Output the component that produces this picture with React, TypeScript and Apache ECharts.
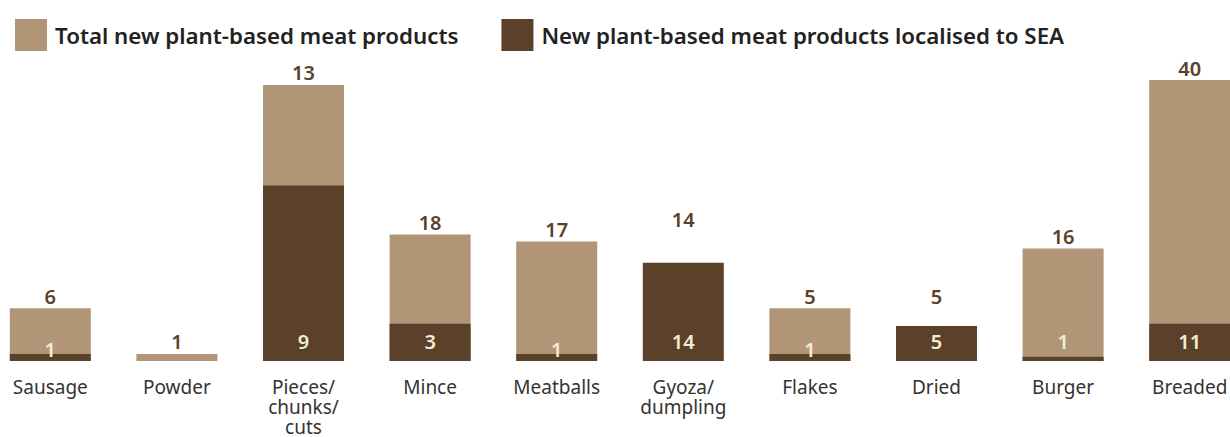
import React, { useEffect, useRef } from "react";
import * as echarts from "echarts";

// Categories (x axis)
const categories = [
  "Sausage",
  "Powder",
  "Pieces/\nchunks/\ncuts",
  "Mince",
  "Meatballs",
  "Gyoza/\ndumpling",
  "Flakes",
  "Dried",
  "Burger",
  "Breaded",
];

// Values printed on the chart
const totalProducts = [6, 1, 13, 18, 17, 14, 5, 5, 16, 40];
const localisedProducts: (number | null)[] = [1, null, 9, 3, 1, 14, 1, 5, 1, 11];

// Bar lengths as drawn in the reference (chart units)
const totalBarLength = [7.5, 1, 39.3, 18, 17, 18.5, 7.5, 7.5, 16, 40];
const localisedBarLength = [1, 0, 25, 5.3, 1, 14, 1, 5, 0.6, 5.3];

// Categories whose total bar is not drawn in the reference (label only)
const hiddenTotal = ["Gyoza/\ndumpling", "Dried"];
// Categories whose localised label sits lower in its bar
const lowLocalLabel = ["Sausage", "Meatballs", "Flakes"];

const seriesNames = [
  "Total new plant-based meat products",
  "New plant-based meat products localised to SEA",
];

const LIGHT = "#b09577";
const DARK = "#5b412a";
const CREAM = "#f3ecd4";
const FONT = "'Noto Sans', Roboto, sans-serif";

export default function App() {
  const ref = useRef<HTMLDivElement>(null);

  useEffect(() => {
    if (!ref.current) return;
    const chart = echarts.init(ref.current, undefined, { renderer: "svg" });

    const totalData = totalBarLength.map((v, i) =>
      hiddenTotal.includes(categories[i])
        ? { value: v, itemStyle: { color: "rgba(0,0,0,0)" } }
        : { value: v }
    );
    const localData = localisedBarLength.map((v, i) =>
      lowLocalLabel.includes(categories[i])
        ? { value: v, label: { distance: 2 } }
        : { value: v }
    );

    chart.setOption({
      animation: false,
      textStyle: { fontFamily: FONT },
      legend: {
        left: 23,
        top: 14,
        itemWidth: 32,
        itemHeight: 32,
        itemGap: 43,
        icon: "rect",
        selectedMode: false,
        textStyle: {
          fontFamily: FONT,
          fontSize: 22.3,
          fontWeight: 600,
          color: "#222222",
          padding: [0, 0, 0, 3],
        },
        data: seriesNames,
      },
      grid: { left: 0, right: 0, top: 80, bottom: 71 },
      xAxis: {
        type: "category",
        data: categories,
        axisLine: { show: false },
        axisTick: { show: false },
        axisLabel: {
          interval: 0,
          margin: 16,
          fontFamily: FONT,
          fontSize: 19,
          lineHeight: 20,
          color: "#333333",
        },
      },
      yAxis: {
        type: "value",
        min: 0,
        max: 40,
        show: false,
        splitLine: { show: false },
      },
      series: [
        {
          name: seriesNames[0],
          type: "bar",
          barWidth: 81,
          barGap: "-100%",
          itemStyle: { color: LIGHT },
          data: totalData,
          label: {
            show: true,
            position: "top",
            distance: 2,
            fontFamily: FONT,
            fontSize: 20,
            fontWeight: 600,
            color: DARK,
            formatter: (p: any) => String(totalProducts[p.dataIndex]),
          },
        },
        {
          name: seriesNames[1],
          type: "bar",
          barWidth: 81,
          barGap: "-100%",
          itemStyle: { color: DARK },
          data: localData,
          label: {
            show: true,
            position: "insideBottom",
            distance: 10,
            fontFamily: FONT,
            fontSize: 20,
            fontWeight: 600,
            color: CREAM,
            formatter: (p: any) => {
              const v = localisedProducts[p.dataIndex];
              return v == null ? "" : String(v);
            },
          },
        },
      ],
    });

    return () => chart.dispose();
  }, []);

  return (
    <div
      style={{
        position: "fixed",
        left: 0,
        top: 0,
        width: 1230,
        height: 437,
        overflow: "hidden",
        background: "#ffffff",
      }}
    >
      <div
        ref={ref}
        style={{ position: "absolute", left: -13, top: 0, width: 1266, height: 437 }}
      />
    </div>
  );
}
